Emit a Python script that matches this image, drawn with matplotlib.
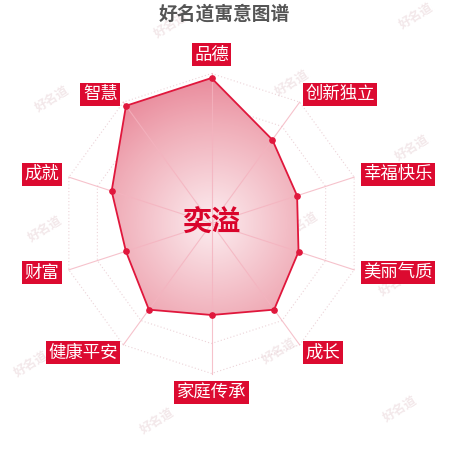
import numpy as np
import matplotlib
matplotlib.use('Agg')
import matplotlib.pyplot as plt
from matplotlib.colors import LinearSegmentedColormap
from matplotlib.patches import Polygon

plt.rcParams['font.family'] = ['Noto Sans CJK SC', 'DejaVu Sans']

# 1. Data
title = '好名道寓意图谱'
name = '奕溢'
labels = ['品德', '创新独立', '幸福快乐', '美丽气质', '成长',
          '家庭传承', '健康平安', '财富', '成就', '智慧']
scores = [97, 69, 60, 61, 71, 61, 71, 60, 70, 97]
max_score = 100
rings = 5
watermark = '好名道'

# 2. Geometry (clockwise from top)
n = len(labels)
theta = np.pi / 2 - np.arange(n) * 2 * np.pi / n
vals = np.array(scores, dtype=float)
px, py = vals * np.cos(theta), vals * np.sin(theta)

fig = plt.figure(figsize=(4.5, 4.5), dpi=100)
ax = fig.add_axes([0, 0, 1, 1])
ax.set_xlim(-141, 159)
ax.set_ylim(-151, 149)
ax.set_aspect('equal')
ax.axis('off')

# watermarks (figure fraction, kept under everything else)
wm_pos = [(0.38, 0.945), (0.925, 0.965), (0.65, 0.815), (0.115, 0.78), (0.915, 0.67),
          (0.10, 0.49), (0.67, 0.50), (0.88, 0.37), (0.07, 0.19), (0.62, 0.22),
          (0.35, 0.065), (0.89, 0.09)]
for wx, wy in wm_pos:
    ax.text(wx, wy, watermark, fontsize=9, color='#f3e8ea', rotation=32,
            ha='center', va='center', fontweight='bold', zorder=0,
            transform=fig.transFigure)

# grid rings
for k in range(1, rings + 1):
    r = max_score * k / rings
    gx = np.append(r * np.cos(theta), r * np.cos(theta[0]))
    gy = np.append(r * np.sin(theta), r * np.sin(theta[0]))
    ax.plot(gx, gy, color='#ecd3d8', lw=0.8, ls=(0, (1, 2)), zorder=1)

# radial gradient fill clipped to the score polygon
cmap = LinearSegmentedColormap.from_list('pk', ['#fcedf0', '#f6cdd4', '#f0adb8', '#e9899a'])
yy, xx = np.mgrid[-100:100:300j, -100:100:300j]
rr = np.sqrt(xx ** 2 + yy ** 2) / max_score
poly = Polygon(np.column_stack([px, py]), closed=True, fc='none', ec='none')
ax.add_patch(poly)
img = ax.imshow(rr, cmap=cmap, vmin=0, vmax=1, extent=(-100, 100, -100, 100),
                origin='lower', interpolation='bilinear', zorder=2)
img.set_clip_path(poly)

# spokes
for t in theta:
    ax.plot([0, max_score * np.cos(t)], [0, max_score * np.sin(t)],
            color='#f4b3bf', lw=0.8, alpha=0.8, zorder=3)

# outline + dots
ax.plot(np.append(px, px[0]), np.append(py, py[0]), color='#e0173c', lw=1.3, zorder=4)
ax.plot(px, py, 'o', color='#e0173c', ms=3.8, zorder=5)

# axis name boxes
gap = 106.5
for lab, t in zip(labels, theta):
    c, s = np.cos(t), np.sin(t)
    ha = 'left' if c > 0.01 else ('right' if c < -0.01 else 'center')
    va = 'bottom' if s > 0.99 else ('top' if s < -0.99 else 'center')
    ax.text(gap * c, gap * s, lab, fontsize=12.5, color='white', ha=ha, va=va,
            zorder=6, bbox=dict(boxstyle='square,pad=0.14', fc='#dc0a30', ec='none'))

# centre name + title
ax.text(0, 1, name, fontsize=21, color='#d9042b', fontweight='bold',
        ha='center', va='center', zorder=7)
fig.text(0.498, 0.968, title, fontsize=13.5, color='#555555', fontweight='bold',
         ha='center', va='center')

fig.savefig('out.png', dpi=100)
